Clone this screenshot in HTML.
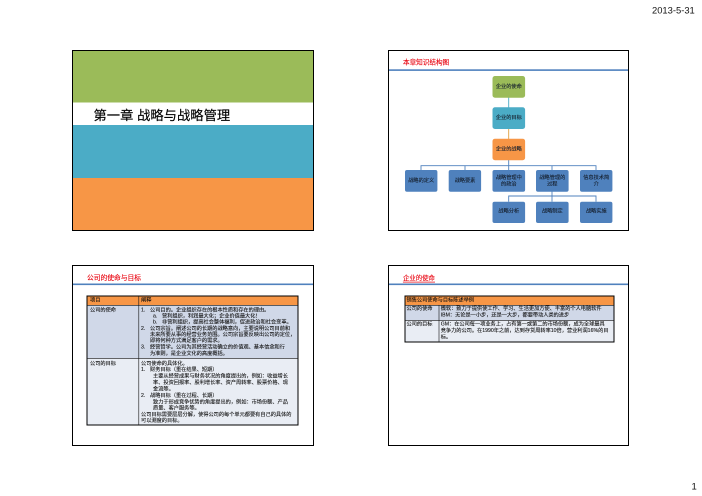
<!DOCTYPE html>
<html>
<head>
<meta charset="utf-8">
<style>
html,body{margin:0;padding:0;background:#fff;width:702px;height:496px;overflow:hidden}
svg{display:block}
text{font-family:"Liberation Sans","Noto Sans CJK SC",sans-serif;dominant-baseline:central}
.n{font-size:5.2px;fill:#16202e;stroke:#16202e;stroke-width:.12px;text-anchor:middle;transform:translateY(.8px)}
.t{font-size:5.2px;fill:#111;stroke:#111;stroke-width:.1px;transform:translateY(1px)}
.r{font-size:6.6px;fill:#e8000d;stroke:#e8000d;stroke-width:.12px;transform:translateY(.8px)}
</style>
</head>
<body>
<svg width="702" height="496" viewBox="0 0 702 496" xmlns="http://www.w3.org/2000/svg">
<rect width="702" height="496" fill="#fff"/>
<text x="652" y="10" style="font-size:9.4px" fill="#111">2013-5-31</text>
<text x="691.5" y="487" style="font-size:9.5px" fill="#111">1</text>

<!-- Slide 1 -->
<rect x="72.5" y="50.5" width="241" height="52" fill="#9BBB59"/>
<rect x="72.5" y="125" width="241" height="53" fill="#4BACC6"/>
<rect x="72.5" y="178" width="241" height="52.5" fill="#F79646"/>
<rect x="72.5" y="50.5" width="241" height="180" fill="none" stroke="#000" stroke-width="1"/>
<text x="93.5" y="115.5" style="font-size:13.3px;stroke:#000;stroke-width:.15px" fill="#000">第一章 战略与战略管理</text>

<!-- Slide 2 -->
<rect x="388.5" y="50.5" width="240" height="180" fill="none" stroke="#000" stroke-width="1"/>
<rect x="389" y="69.3" width="239" height="1.6" fill="#4F81BD"/>
<text x="403" y="62" class="r">本章知识结构图</text>
<g fill="none" stroke-width="0.9">
<path d="M508.7 97.5V107.5" stroke="#4BACC6"/>
<path d="M508.7 129V139" stroke="#E0A040"/>
<path d="M508.7 160V170M421 170V165.7H596V170M465 165.7V170M552 165.7V170" stroke="#4F81BD"/>
<path d="M552 191.5V196M508.7 201.7V196H596V201.7M552 196V201.7" stroke="#4F81BD"/>
</g>
<g>
<rect x="492.5" y="76" width="32.6" height="21.7" rx="2.5" fill="#9BBB59"/>
<rect x="492.5" y="107.3" width="32.6" height="21.7" rx="2.5" fill="#4BACC6"/>
<rect x="492.5" y="138.7" width="32.6" height="21.5" rx="2.5" fill="#F79646"/>
</g>
<g fill="#4F81BD">
<rect x="405" y="170" width="32.4" height="21.7" rx="2"/>
<rect x="448.7" y="170" width="32.4" height="21.7" rx="2"/>
<rect x="492.5" y="170" width="32.6" height="21.7" rx="2"/>
<rect x="536" y="170" width="32.6" height="21.7" rx="2"/>
<rect x="580" y="170" width="32.4" height="21.7" rx="2"/>
<rect x="492.5" y="201.7" width="32.6" height="21.3" rx="2"/>
<rect x="536" y="201.7" width="32.6" height="21.3" rx="2"/>
<rect x="580" y="201.7" width="32.4" height="21.3" rx="2"/>
</g>
<text x="508.8" y="86" class="n">企业的使命</text>
<text x="508.8" y="117" class="n">企业的目标</text>
<text x="508.8" y="148.5" class="n">企业的战略</text>
<text x="421.2" y="180" class="n">战略的定义</text>
<text x="465" y="180" class="n">战略要素</text>
<text x="508.8" y="177" class="n">战略管理中</text>
<text x="508.8" y="183.5" class="n">的政治</text>
<text x="552.3" y="177" class="n">战略管理的</text>
<text x="552.3" y="183.5" class="n">过程</text>
<text x="596.2" y="177" class="n">信息技术简</text>
<text x="596.2" y="183.5" class="n">介</text>
<text x="508.8" y="210.5" class="n">战略分析</text>
<text x="552.3" y="210.5" class="n">战略制定</text>
<text x="596.2" y="210.5" class="n">战略实施</text>

<!-- Slide 3 -->
<rect x="72.5" y="265.5" width="241" height="180" fill="none" stroke="#000" stroke-width="1"/>
<rect x="73" y="283.5" width="240" height="1.6" fill="#4F81BD"/>
<text x="87" y="277.5" class="r" style="font-size:6.75px">公司的使命与目标</text>
<rect x="87" y="296" width="211" height="9.3" fill="#F79646"/>
<rect x="87" y="305.3" width="211" height="53" fill="#D0D8E8"/>
<rect x="87" y="358.3" width="211" height="66.7" fill="#E9EDF4"/>
<rect x="87" y="296" width="211" height="129" fill="none" stroke="#000" stroke-width="1"/>
<path d="M87 305.3H298M87 358.3H298M138.8 296V425" stroke="#111" stroke-width="0.6" fill="none"/>
<text x="90" y="299.5" class="t">项目</text>
<text x="141" y="299.5" class="t">阐释</text>
<text x="90" y="309.3" class="t">公司的使命</text>
<text x="141" y="309.3" class="t">1.</text><text x="150" y="309.3" class="t">公司目的。企业组织存在的根本性质和存在的理由。</text>
<text x="153" y="315.3" class="t">a.</text><text x="162" y="315.3" class="t">营利组织，利润最大化；企业价值最大化！</text>
<text x="153" y="321.5" class="t">b.</text><text x="162" y="321.5" class="t">非营利组织，提高社会整体福利，促进政治和社会变革。</text>
<text x="141" y="328" class="t">2.</text><text x="150" y="328" class="t">公司宗旨。阐述公司的长期的战略意向，主要说明公司目前和</text>
<text x="150" y="334" class="t">未来所要从事的经营业务范围。公司宗旨要反映出公司的定位，</text>
<text x="150" y="340" class="t">即将何种方式满足客户的需求。</text>
<text x="141" y="346.7" class="t">3.</text><text x="150" y="346.7" class="t">经营哲学。公司为其经营活动确立的价值观、基本信念和行</text>
<text x="150" y="353" class="t">为准则，是企业文化的高度概括。</text>
<text x="90" y="363" class="t">公司的目标</text>
<text x="141" y="363" class="t">公司使命的具体化。</text>
<text x="141" y="369" class="t">1.</text><text x="150" y="369" class="t">财务目标（重在结果、短期）</text>
<text x="153" y="375.7" class="t">主要从经营成果与财务状况的角度提出的，例如：收益增长</text>
<text x="153" y="382" class="t">率、投资回报率、股利增长率、资产周转率、股票价格、现</text>
<text x="153" y="388.5" class="t">金流等。</text>
<text x="141" y="395" class="t">2.</text><text x="150" y="395" class="t">战略目标（重在过程、长期）</text>
<text x="153" y="401.5" class="t">致力于形成竞争优势的角度提出的，例如：市场份额、产品</text>
<text x="153" y="407.5" class="t">质量、客户服务等。</text>
<text x="141" y="414" class="t">公司目标需要层层分解，使得公司的每个单元都要有自己的具体的</text>
<text x="141" y="420" class="t">可以测度的目标。</text>

<!-- Slide 4 -->
<rect x="388.5" y="265.5" width="240" height="180" fill="none" stroke="#000" stroke-width="1"/>
<rect x="389" y="283.5" width="239" height="1.6" fill="#4F81BD"/>
<text x="403" y="277.5" class="r" style="font-size:6.4px;text-decoration:underline">企业的使命</text>
<rect x="405" y="296" width="209" height="9.3" fill="#F79646"/>
<rect x="405" y="305.3" width="209" height="15" fill="#D0D8E8"/>
<rect x="405" y="320.3" width="209" height="21.7" fill="#E9EDF4"/>
<rect x="405" y="296" width="209" height="46" fill="none" stroke="#000" stroke-width="1"/>
<path d="M405 305.3H614M405 320.3H614M439 305.3V342" stroke="#111" stroke-width="0.6" fill="none"/>
<text x="406.5" y="299.5" class="t">销售公司使命与目标陈述举例</text>
<text x="406.5" y="308.2" class="t">公司的使命</text>
<text x="440.7" y="308.2" class="t">微软：致力于提供使工作、学习、生活更加方便、丰富的个人电脑软件</text>
<text x="440.7" y="314.5" class="t">IBM：无论是一小步，还是一大步，都要带动人类的进步</text>
<text x="406.5" y="323.3" class="t">公司的目标</text>
<text x="440.7" y="323.3" class="t">GM：在公司每一项业务上，占有第一或第二的市场份额，成为全球最具</text>
<text x="440.7" y="330" class="t">竞争力的公司。在1990年之前，达到存货周转率10倍，营业利润16%的目</text>
<text x="440.7" y="336.5" class="t">标。</text>
</svg>
</body>
</html>
